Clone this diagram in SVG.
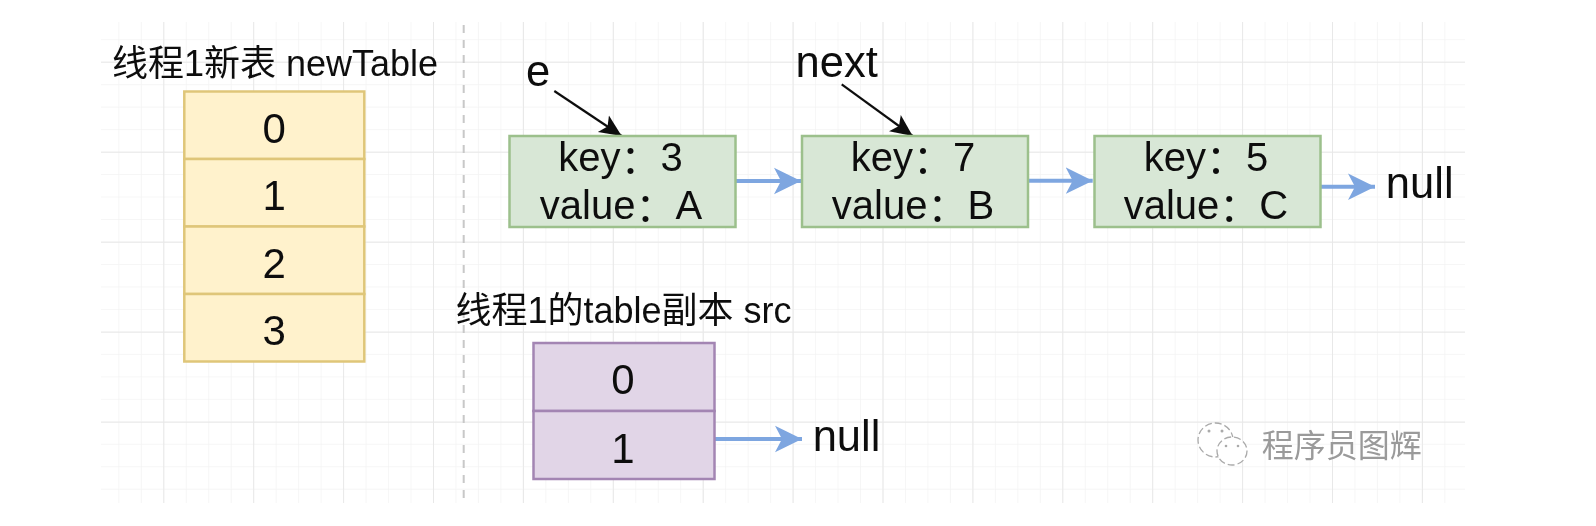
<svg xmlns="http://www.w3.org/2000/svg" width="1596" height="526" viewBox="0 0 1596 526">
<defs>
<pattern id="minor" width="22.475" height="22.475" patternUnits="userSpaceOnUse" patternTransform="translate(163.3 61.7)"><path d="M0 0V22.475M0 0H22.475" fill="none" stroke="#f3f3f3" stroke-width="1.5"/></pattern>
<pattern id="major" width="89.9" height="90" patternUnits="userSpaceOnUse" patternTransform="translate(163.3 61.7)"><path d="M0 0V90M0 0H89.9" fill="none" stroke="#e8e8e8" stroke-width="2"/></pattern>
<marker id="blue" markerUnits="userSpaceOnUse" markerWidth="30" markerHeight="30" refX="27" refY="14" orient="auto"><path d="M27 14L0 .7 7 14 0 27.3Z" fill="#7ea6e0"/></marker>
<marker id="black" markerUnits="userSpaceOnUse" markerWidth="26" markerHeight="26" refX="22" refY="11" orient="auto"><path d="M22 11L0 1 5 11 0 21Z" fill="#111"/></marker>
<filter id="soft" x="-5%" y="-5%" width="110%" height="110%"><feGaussianBlur stdDeviation="0.45"/></filter>
<style>
text{font-family:"Liberation Sans","Noto Sans CJK SC",sans-serif;fill:#111;text-anchor:middle}
.t{font-size:36px}
.n{font-size:42px}
.l{font-size:43.500px}
.k{font-size:40px}
.y{fill:#fff2cc;stroke:#dfc679;stroke-width:2.5}
.g{fill:#d8e7d6;stroke:#9cc08c;stroke-width:2.5}
.p{fill:#e1d5e7;stroke:#a385b3;stroke-width:2.5}
.c{fill:none;stroke:#7ea6e0;stroke-width:4;marker-end:url(#blue)}
.d{fill:none;stroke:#111;stroke-width:2.2;marker-end:url(#black)}
.w{font-size:32px;fill:#9a9a9a}
.i{fill:#fff;stroke:#aaa;stroke-width:1.3;stroke-dasharray:7 3}
.e{fill:#aaa}
</style>
</defs>
<rect width="1596" height="526" fill="#fff"/>
<g filter="url(#soft)">
<g id="grid"><rect x="101" y="22" width="1364" height="481" fill="url(#minor)"/><rect x="101" y="22" width="1364" height="481" fill="url(#major)"/></g>
<path id="divider" d="M463.7 25V503" fill="none" stroke="#c8c8c8" stroke-width="2" stroke-dasharray="8 7"/>
<g id="connectors">
<path class="c" d="M735 181H801"/>
<path class="c" d="M1028 180.7H1092.7"/>
<path class="c" d="M1321 186.7H1375"/>
<path class="c" d="M714 439H802"/>
<path class="d" d="M554.300 91L621.700 136"/>
<path class="d" d="M841.700 84.300L912.700 136"/>
</g>
<text id="title-new" class="t" x="275" y="76">线程1新表 newTable</text>
<g id="new-0"><rect class="y" x="184.3" y="91.5" width="180" height="67.5"/><text class="n" x="274.3" y="142.500">0</text></g>
<g id="new-1"><rect class="y" x="184.3" y="159" width="180" height="67.5"/><text class="n" x="274.3" y="210">1</text></g>
<g id="new-2"><rect class="y" x="184.3" y="226.500" width="180" height="67.5"/><text class="n" x="274.300" y="277.500">2</text></g>
<g id="new-3"><rect class="y" x="184.3" y="294" width="180" height="67.5"/><text class="n" x="274.3" y="345">3</text></g>
<g id="label-e"><text class="l" x="538" y="86">e</text></g>
<g id="label-next"><text class="l" x="836.700" y="76.700">next</text></g>
<g id="node-a"><rect class="g" x="509.500" y="136" width="226" height="91"/><text class="k" x="620.500" y="171">key<tspan dy="2">：</tspan><tspan dy="-2">3</tspan></text><text class="k" x="621" y="219">value<tspan dy="2">：</tspan><tspan dy="-2">A</tspan></text></g>
<g id="node-b"><rect class="g" x="802" y="136" width="226" height="91"/><text class="k" x="913" y="171">key<tspan dy="2">：</tspan><tspan dy="-2">7</tspan></text><text class="k" x="913" y="219">value<tspan dy="2">：</tspan><tspan dy="-2">B</tspan></text></g>
<g id="node-c"><rect class="g" x="1094.500" y="136" width="226" height="91"/><text class="k" x="1206" y="171">key<tspan dy="2">：</tspan><tspan dy="-2">5</tspan></text><text class="k" x="1206" y="219">value<tspan dy="2">：</tspan><tspan dy="-2">C</tspan></text></g>
<g id="null-c"><text class="l" x="1419.700" y="198">null</text></g>
<text id="title-src" class="t" x="623.500" y="323">线程1的table副本 src</text>
<g id="src-0"><rect class="p" x="533.500" y="343" width="181" height="68"/><text class="n" x="623" y="394">0</text></g>
<g id="src-1"><rect class="p" x="533.500" y="411" width="181" height="68"/><text class="n" x="623" y="462.500">1</text></g>
<g id="null-src"><text class="l" x="846.500" y="451">null</text></g>
<g id="watermark"><ellipse class="i" cx="1215.500" cy="440" rx="17.500" ry="17"/><ellipse class="i" cx="1232" cy="451" rx="15" ry="14"/><circle class="e" cx="1209" cy="431" r="1.500"/><circle class="e" cx="1222" cy="431" r="1.500"/><circle class="e" cx="1226" cy="446" r="1.300"/><circle class="e" cx="1238" cy="446" r="1.300"/><text class="w" x="1341.700" y="457">程序员图辉</text></g>
</g>
</svg>
